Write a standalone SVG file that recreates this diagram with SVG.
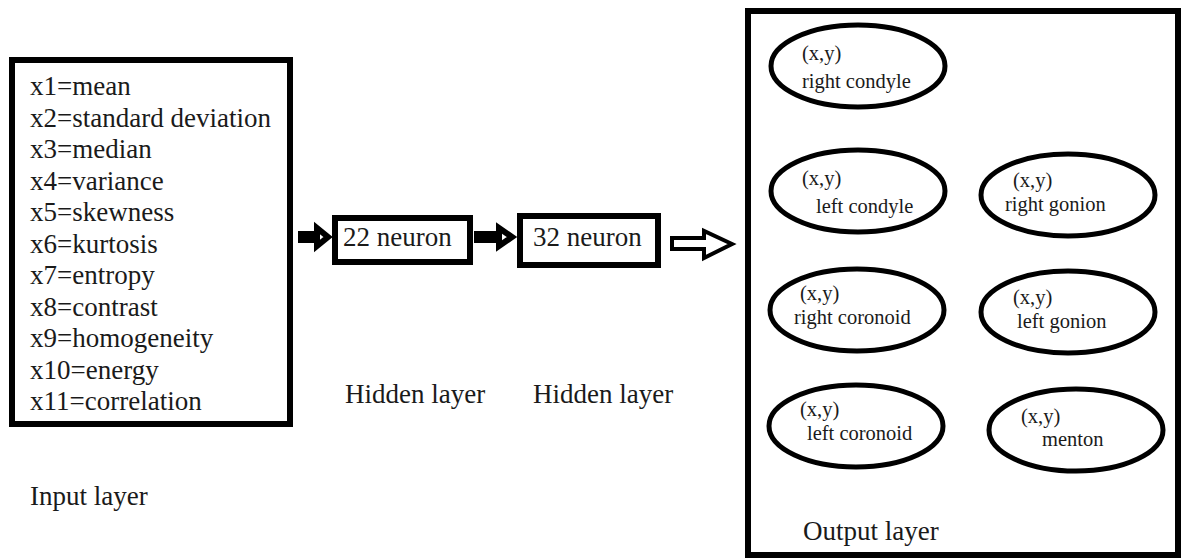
<svg xmlns="http://www.w3.org/2000/svg" width="1182" height="560" viewBox="0 0 1182 560" font-family="Liberation Serif, serif" fill="#1a1a1a">
<style>
.in{font-size:27px;}
.lbl{font-size:27px;}
.el{font-size:20.5px;}
.box{fill:#fff;stroke:#000;stroke-width:6;}
.ell{fill:#fff;stroke:#000;stroke-width:5;}
.arr{fill:#fff;stroke:#000;stroke-width:6;stroke-linejoin:miter;}
.harr{fill:#fff;stroke:#000;stroke-width:4;stroke-linejoin:miter;}
</style>
<rect width="1182" height="560" fill="#fff"/>
<g id="input">
<rect class="box" x="12" y="60" width="278" height="364"/>
<text class="in" x="30" y="95">x1=mean</text>
<text class="in" x="30" y="126.5">x2=standard deviation</text>
<text class="in" x="30" y="158">x3=median</text>
<text class="in" x="30" y="189.5">x4=variance</text>
<text class="in" x="30" y="221">x5=skewness</text>
<text class="in" x="30" y="252.5">x6=kurtosis</text>
<text class="in" x="30" y="284">x7=entropy</text>
<text class="in" x="30" y="315.5">x8=contrast</text>
<text class="in" x="30" y="347">x9=homogeneity</text>
<text class="in" x="30" y="378.5">x10=energy</text>
<text class="in" x="30" y="410">x11=correlation</text>
</g>
<g id="input-label"><text class="lbl" x="30" y="505">Input layer</text></g>
<g id="hidden1">
<rect class="box" x="335" y="218" width="135" height="44"/>
<text class="lbl" x="343" y="246">22 neuron</text>
</g>
<g id="hidden2">
<rect class="box" x="520" y="216" width="138" height="49"/>
<text class="lbl" x="533" y="246">32 neuron</text>
</g>
<g id="hidden-labels">
<text class="lbl" x="345" y="403">Hidden layer</text>
<text class="lbl" x="533" y="403">Hidden layer</text>
</g>
<g id="connectors">
<polygon class="arr" points="301,234 317,234 317,228 328,237 317,246 317,240 301,240"/>
<polygon class="arr" points="477,234 499,234 499,228 512,237 499,246 499,240 477,240"/>
<polygon class="harr" points="672,238 704,238 704,231 732,244 704,258 704,249 672,249"/>
</g>
<g id="output">
<rect class="box" x="748" y="11" width="430" height="544"/>
<text class="lbl" x="803" y="540">Output layer</text>
</g>
<g id="right-condyle">
<ellipse class="ell" cx="858" cy="66" rx="87" ry="41"/>
<text class="el" x="802" y="60">(x,y)</text>
<text class="el" x="802" y="88">right condyle</text>
</g>
<g id="left-condyle">
<ellipse class="ell" cx="858" cy="191" rx="87" ry="41"/>
<text class="el" x="802" y="185">(x,y)</text>
<text class="el" x="816" y="213">left condyle</text>
</g>
<g id="right-gonion">
<ellipse class="ell" cx="1068" cy="195" rx="87" ry="41"/>
<text class="el" x="1013" y="187">(x,y)</text>
<text class="el" x="1005" y="211">right gonion</text>
</g>
<g id="right-coronoid">
<ellipse class="ell" cx="857" cy="310" rx="87" ry="41"/>
<text class="el" x="800" y="300">(x,y)</text>
<text class="el" x="794" y="324">right coronoid</text>
</g>
<g id="left-gonion">
<ellipse class="ell" cx="1068" cy="312" rx="87" ry="41"/>
<text class="el" x="1013" y="304">(x,y)</text>
<text class="el" x="1017" y="328">left gonion</text>
</g>
<g id="left-coronoid">
<ellipse class="ell" cx="856" cy="426" rx="87" ry="41"/>
<text class="el" x="800" y="416">(x,y)</text>
<text class="el" x="807" y="440">left coronoid</text>
</g>
<g id="menton">
<ellipse class="ell" cx="1076" cy="430" rx="87" ry="41"/>
<text class="el" x="1021" y="423">(x,y)</text>
<text class="el" x="1042" y="446">menton</text>
</g>
</svg>
